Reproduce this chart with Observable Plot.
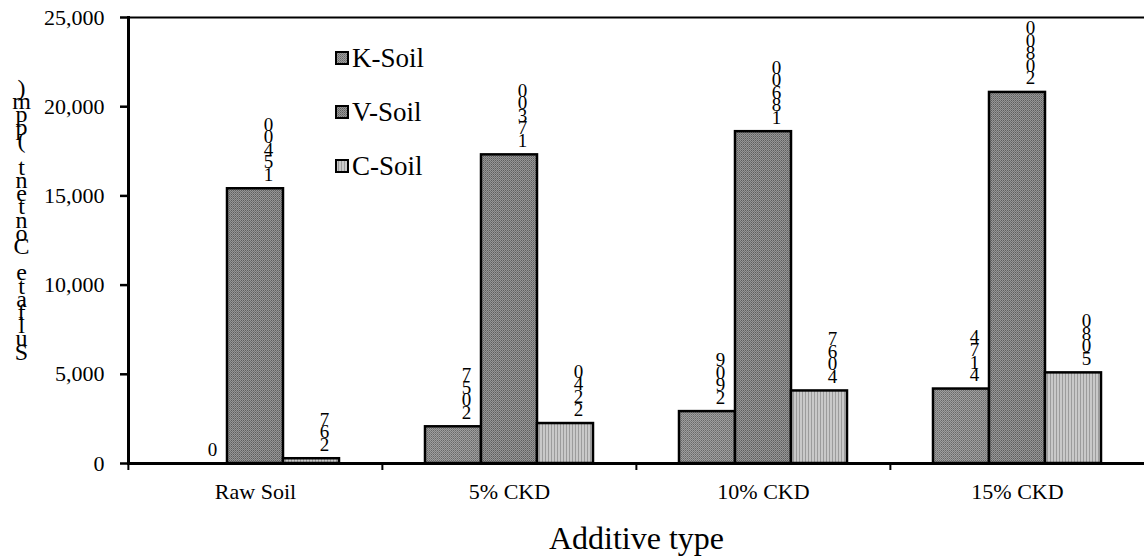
<!DOCTYPE html>
<html>
<head>
<meta charset="utf-8">
<script src="https://cdn.jsdelivr.net/npm/d3@7"></script>
<script src="https://cdn.jsdelivr.net/npm/@observablehq/plot@0.6"></script>
<style>
  body { margin: 0; background: #fff; }
  #wrap { position: relative; width: 1144px; height: 558px; background: #fff; }
  #legend { position: absolute; left: 0; top: 0; pointer-events: none; }
</style>
</head>
<body>
<div id="wrap"></div>
<script>
// ---- data ----
const categories = ["Raw Soil", "5% CKD", "10% CKD", "15% CKD"];
const seriesNames = ["K-Soil", "V-Soil", "C-Soil"];
const kSoil = [0, 2057, 2909, 4174];
const vSoil = [15400, 17300, 18600, 20800];
const cSoil = [267, 2240, 4067, 5080];
const yTicks = [0, 5000, 10000, 15000, 20000, 25000];
const yTitle = "Sulfate Content (ppm)";
const xTitle = "Additive type";

const seriesValues = [kSoil, vSoil, cSoil];
const rows = [];
categories.forEach((c, ci) => seriesNames.forEach((s, si) => rows.push({category: c, series: s, value: seriesValues[si][ci]})));

// stacked, reversed characters (as the reference renders its rotated text)
const stack = s => Array.from(String(s)).reverse().join("\n");

const W = 1144, H = 558, mL = 127, mR = 0, mT = 17, mB = 95;
const band = (W - mL - mR) / categories.length;
const font = "Liberation Serif, Times New Roman, serif";
const patterns = ["url(#pK)", "url(#pV)", "url(#pC)"];

const chart = Plot.plot({
  width: W, height: H,
  marginLeft: mL, marginRight: mR, marginTop: mT, marginBottom: mB,
  style: {fontFamily: font, background: "white", color: "black"},
  fx: {domain: categories, padding: 0},
  x: {domain: seriesNames, paddingInner: 0, paddingOuter: 0.74, axis: null},
  y: {domain: [0, 25000]},
  color: {domain: seriesNames, range: patterns},
  marks: [
    Plot.barY(rows, {fx: "category", x: "series", y: "value", fill: "series", stroke: "black", strokeWidth: 2.5}),
    Plot.text(rows, {fx: "category", x: "series", y: "value", text: d => stack(d.value),
      lineAnchor: "bottom", lineHeight: 0.66, dy: -8, dx: 13, fontSize: 19}),
    Plot.ruleY([25000], {strokeWidth: 2}),
    Plot.ruleY([0], {strokeWidth: 3}),
    Plot.frame({anchor: "left", facetAnchor: "left", strokeWidth: 3}),
    Plot.axisY({ticks: yTicks, tickFormat: d3.format(","), tickSize: 8, tickPadding: 16, fontSize: 22, strokeWidth: 2.5, label: null}),
    Plot.axisFx({anchor: "bottom", tickSize: 0, tickPadding: 20, fontSize: 22, label: null}),
    Plot.axisFx({anchor: "bottom", tickSize: 7, tickFormat: () => "", dx: -band / 2, strokeWidth: 2, label: null}),
    Plot.text([categories[0]], {fx: d => d, text: () => stack(yTitle), frameAnchor: "bottom-left",
      lineAnchor: "bottom", textAnchor: "middle", lineHeight: 0.55, fontSize: 24, dx: -107, dy: -104}),
    Plot.text([categories[1]], {fx: d => d, text: () => xTitle, frameAnchor: "bottom-right",
      lineAnchor: "bottom", textAnchor: "middle", fontSize: 32, dy: 85})
  ]
});

const wrap = document.getElementById("wrap");
wrap.appendChild(chart);

// fill patterns
const svgEl = chart.tagName.toLowerCase() === "svg" ? chart : chart.querySelector("svg");
const defs = d3.select(svgEl).insert("defs", ":first-child");
function pat(id, w, h, bg, dots) {
  const p = defs.append("pattern").attr("id", id).attr("patternUnits", "userSpaceOnUse").attr("width", w).attr("height", h);
  p.append("rect").attr("width", w).attr("height", h).attr("fill", bg);
  dots.forEach(([x, y, c]) => p.append("rect").attr("x", x).attr("y", y).attr("width", 1).attr("height", 1).attr("fill", c));
}
pat("pK", 2, 2, "#9e9e9e", [[0, 0, "#686868"], [1, 1, "#7c7c7c"]]);
pat("pV", 2, 2, "#969696", [[0, 0, "#5e5e5e"], [1, 1, "#747474"]]);
pat("pC", 3, 1, "#c9c9c9", [[2, 0, "#9c9c9c"]]);

// legend (inside plot area)
const leg = d3.select(wrap).append("svg").attr("id", "legend").attr("width", W).attr("height", H);
seriesNames.forEach((s, i) => {
  leg.append("rect").attr("x", 336).attr("y", 52 + 54 * i).attr("width", 12).attr("height", 12)
    .attr("fill", patterns[i]).attr("stroke", "black").attr("stroke-width", 2);
  leg.append("text").attr("x", 352).attr("y", 67 + 54 * i).attr("font-family", font).attr("font-size", 27)
    .attr("fill", "black").text(s);
});
</script>
</body>
</html>
